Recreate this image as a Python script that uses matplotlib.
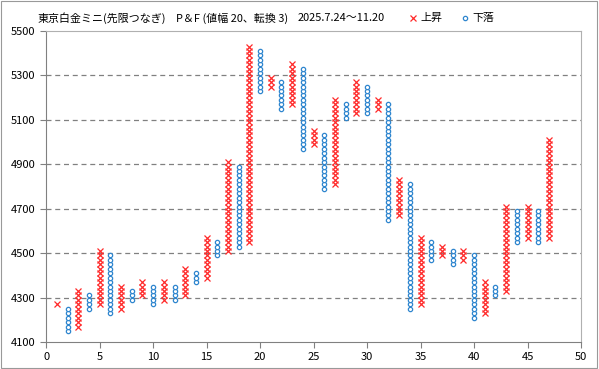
import numpy as np
import matplotlib
matplotlib.use('Agg')
import matplotlib.pyplot as plt
from matplotlib.lines import Line2D

plt.rcParams['font.family'] = ['Noto Sans CJK JP', 'DejaVu Sans']

# P&F 列データ（各列の下端・上端、値幅20）
col_kind = ['X', 'O'] * 23 + ['X']
col_low = [4270, 4150, 4170, 4250, 4270, 4230, 4250, 4290, 4310, 4270,
           4290, 4290, 4310, 4370, 4390, 4490, 4510, 4530, 4550, 5230,
           5250, 5150, 5170, 4970, 4990, 4790, 4810, 5110, 5130, 5130,
           5150, 4650, 4670, 4250, 4270, 4470, 4490, 4450, 4470, 4210,
           4230, 4310, 4330, 4550, 4570, 4550, 4570]
col_high = [4270, 4250, 4330, 4310, 4510, 4490, 4350, 4330, 4370, 4350,
            4370, 4350, 4430, 4410, 4570, 4550, 4910, 4890, 5430, 5410,
            5290, 5270, 5350, 5330, 5050, 5030, 5190, 5170, 5270, 5250,
            5190, 5170, 4830, 4810, 4570, 4550, 4530, 4510, 4510, 4490,
            4370, 4350, 4710, 4690, 4710, 4690, 5010]
box = 20

title_parts = ['東京白金ミニ(先限つなぎ)', 'P＆F (値幅 20、転換 3)', '2025.7.24～11.20']
title_x = [38, 176, 298]
yticks = [4100, 4300, 4500, 4700, 4900, 5100, 5300, 5500]
xticks = [0, 5, 10, 15, 20, 25, 30, 35, 40, 45, 50]

red = '#ff2a2a'
blue = '#2f86cf'

fig = plt.figure(figsize=(5.99, 3.69), dpi=100)
ax = fig.add_axes([0.077, 0.073, 0.893, 0.843])

xs_x, ys_x, xs_o, ys_o = [], [], [], []
for i, (k, lo, hi) in enumerate(zip(col_kind, col_low, col_high)):
    vals = np.arange(lo, hi + 1, box)
    if k == 'X':
        xs_x += [i + 1] * len(vals)
        ys_x += list(vals)
    else:
        xs_o += [i + 1] * len(vals)
        ys_o += list(vals)

ax.plot(xs_x, ys_x, 'x', color=red, ms=4.3, mew=0.9, zorder=3)
ax.plot(xs_o, ys_o, 'o', mfc='white', mec=blue, ms=3.1, mew=0.9, zorder=3)

for y in yticks[1:-1]:
    ax.axhline(y, color='#808080', lw=0.9, ls=(0, (4, 3)), zorder=1)

ax.set_xlim(0, 50)
ax.set_ylim(4100, 5500)
ax.set_xticks(xticks)
ax.set_yticks(yticks)
ax.tick_params(labelsize=8, length=4, width=0.8, color='#808080')

for s in ['left', 'bottom']:
    ax.spines[s].set_color('#808080')
for s in ['top', 'right']:
    ax.spines[s].set_color('#b0b0b0')

ty = 0.951
for t, x in zip(title_parts, title_x):
    fig.text(x / 599, ty, t, fontsize=7.9, va='center', ha='left')

# 凡例（手描き）
fig.add_artist(Line2D([413 / 599], [ty], transform=fig.transFigure, ls='',
                      marker='x', color=red, ms=4.3, mew=0.9))
fig.text(420 / 599, ty, '上昇', fontsize=7.9, va='center', ha='left')
fig.add_artist(Line2D([465 / 599], [ty], transform=fig.transFigure, ls='',
                      marker='o', mfc='white', mec=blue, ms=3.1, mew=0.9))
fig.text(472 / 599, ty, '下落', fontsize=7.9, va='center', ha='left')

# 外枠
fig.patches.append(plt.Rectangle((0.002, 0.003), 0.995, 0.994, transform=fig.transFigure,
                                 fill=False, ec='#999999', lw=0.8))

fig.savefig('out.png', dpi=100)
